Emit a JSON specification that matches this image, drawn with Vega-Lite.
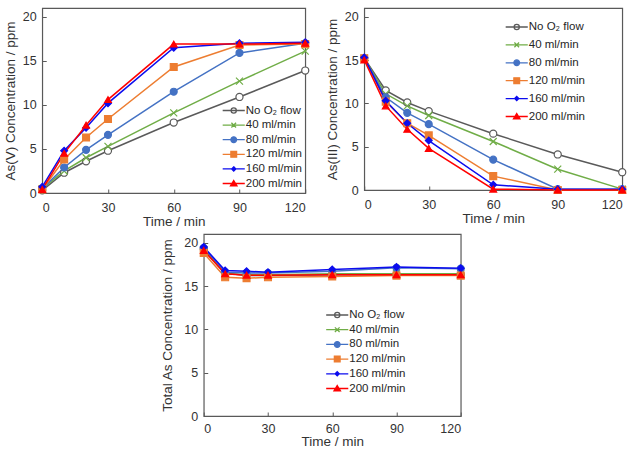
{
  "$schema": "https://vega.github.io/schema/vega-lite/v6.json",
  "padding": {"left": 2, "top": 7, "right": 2, "bottom": 0},
  "background": "white",
  "datasets": {
    "asv": [
      {"s": "No O₂ flow", "t": 0, "c": 0.3}, {"s": "No O₂ flow", "t": 10, "c": 2.3}, {"s": "No O₂ flow", "t": 20, "c": 3.6}, {"s": "No O₂ flow", "t": 30, "c": 4.8}, {"s": "No O₂ flow", "t": 60, "c": 8.0}, {"s": "No O₂ flow", "t": 90, "c": 10.9}, {"s": "No O₂ flow", "t": 120, "c": 13.9},
      {"s": "40 ml/min", "t": 0, "c": 0.5}, {"s": "40 ml/min", "t": 10, "c": 2.5}, {"s": "40 ml/min", "t": 20, "c": 4.0}, {"s": "40 ml/min", "t": 30, "c": 5.3}, {"s": "40 ml/min", "t": 60, "c": 9.1}, {"s": "40 ml/min", "t": 90, "c": 12.7}, {"s": "40 ml/min", "t": 120, "c": 16.1},
      {"s": "80 ml/min", "t": 0, "c": 0.5}, {"s": "80 ml/min", "t": 10, "c": 2.9}, {"s": "80 ml/min", "t": 20, "c": 4.9}, {"s": "80 ml/min", "t": 30, "c": 6.6}, {"s": "80 ml/min", "t": 60, "c": 11.5}, {"s": "80 ml/min", "t": 90, "c": 15.9}, {"s": "80 ml/min", "t": 120, "c": 17.0},
      {"s": "120 ml/min", "t": 0, "c": 0.4}, {"s": "120 ml/min", "t": 10, "c": 3.8}, {"s": "120 ml/min", "t": 20, "c": 6.3}, {"s": "120 ml/min", "t": 30, "c": 8.4}, {"s": "120 ml/min", "t": 60, "c": 14.3}, {"s": "120 ml/min", "t": 90, "c": 16.8}, {"s": "120 ml/min", "t": 120, "c": 16.9},
      {"s": "160 ml/min", "t": 0, "c": 0.7}, {"s": "160 ml/min", "t": 10, "c": 4.8}, {"s": "160 ml/min", "t": 20, "c": 7.4}, {"s": "160 ml/min", "t": 30, "c": 10.2}, {"s": "160 ml/min", "t": 60, "c": 16.5}, {"s": "160 ml/min", "t": 90, "c": 17.0}, {"s": "160 ml/min", "t": 120, "c": 17.1},
      {"s": "200 ml/min", "t": 0, "c": 0.4}, {"s": "200 ml/min", "t": 10, "c": 4.5}, {"s": "200 ml/min", "t": 20, "c": 7.7}, {"s": "200 ml/min", "t": 30, "c": 10.6}, {"s": "200 ml/min", "t": 60, "c": 16.9}, {"s": "200 ml/min", "t": 90, "c": 16.9}, {"s": "200 ml/min", "t": 120, "c": 17.0}
    ],
    "as3": [
      {"s": "No O₂ flow", "t": 0, "c": 15.2}, {"s": "No O₂ flow", "t": 10, "c": 11.5}, {"s": "No O₂ flow", "t": 20, "c": 10.1}, {"s": "No O₂ flow", "t": 30, "c": 9.1}, {"s": "No O₂ flow", "t": 60, "c": 6.5}, {"s": "No O₂ flow", "t": 90, "c": 4.1}, {"s": "No O₂ flow", "t": 120, "c": 2.05},
      {"s": "40 ml/min", "t": 0, "c": 15.2}, {"s": "40 ml/min", "t": 10, "c": 11.1}, {"s": "40 ml/min", "t": 20, "c": 9.7}, {"s": "40 ml/min", "t": 30, "c": 8.6}, {"s": "40 ml/min", "t": 60, "c": 5.6}, {"s": "40 ml/min", "t": 90, "c": 2.4}, {"s": "40 ml/min", "t": 120, "c": 0.1},
      {"s": "80 ml/min", "t": 0, "c": 15.2}, {"s": "80 ml/min", "t": 10, "c": 10.7}, {"s": "80 ml/min", "t": 20, "c": 8.9}, {"s": "80 ml/min", "t": 30, "c": 7.6}, {"s": "80 ml/min", "t": 60, "c": 3.5}, {"s": "80 ml/min", "t": 90, "c": 0.1}, {"s": "80 ml/min", "t": 120, "c": 0.1},
      {"s": "120 ml/min", "t": 0, "c": 15.2}, {"s": "120 ml/min", "t": 10, "c": 10.2}, {"s": "120 ml/min", "t": 20, "c": 7.7}, {"s": "120 ml/min", "t": 30, "c": 6.3}, {"s": "120 ml/min", "t": 60, "c": 1.6}, {"s": "120 ml/min", "t": 90, "c": 0.0}, {"s": "120 ml/min", "t": 120, "c": 0.0},
      {"s": "160 ml/min", "t": 0, "c": 15.3}, {"s": "160 ml/min", "t": 10, "c": 10.3}, {"s": "160 ml/min", "t": 20, "c": 7.7}, {"s": "160 ml/min", "t": 30, "c": 5.7}, {"s": "160 ml/min", "t": 60, "c": 0.6}, {"s": "160 ml/min", "t": 90, "c": 0.1}, {"s": "160 ml/min", "t": 120, "c": 0.1},
      {"s": "200 ml/min", "t": 0, "c": 15.0}, {"s": "200 ml/min", "t": 10, "c": 9.7}, {"s": "200 ml/min", "t": 20, "c": 7.0}, {"s": "200 ml/min", "t": 30, "c": 4.8}, {"s": "200 ml/min", "t": 60, "c": 0.1}, {"s": "200 ml/min", "t": 90, "c": 0.0}, {"s": "200 ml/min", "t": 120, "c": 0.0}
    ],
    "total": [
      {"s": "No O₂ flow", "t": 0, "c": 19.3}, {"s": "No O₂ flow", "t": 10, "c": 16.5}, {"s": "No O₂ flow", "t": 20, "c": 16.2}, {"s": "No O₂ flow", "t": 30, "c": 16.2}, {"s": "No O₂ flow", "t": 60, "c": 16.3}, {"s": "No O₂ flow", "t": 90, "c": 16.3}, {"s": "No O₂ flow", "t": 120, "c": 16.3},
      {"s": "40 ml/min", "t": 0, "c": 19.2}, {"s": "40 ml/min", "t": 10, "c": 16.4}, {"s": "40 ml/min", "t": 20, "c": 16.3}, {"s": "40 ml/min", "t": 30, "c": 16.3}, {"s": "40 ml/min", "t": 60, "c": 16.4}, {"s": "40 ml/min", "t": 90, "c": 16.4}, {"s": "40 ml/min", "t": 120, "c": 16.4},
      {"s": "80 ml/min", "t": 0, "c": 19.4}, {"s": "80 ml/min", "t": 10, "c": 16.6}, {"s": "80 ml/min", "t": 20, "c": 16.5}, {"s": "80 ml/min", "t": 30, "c": 16.5}, {"s": "80 ml/min", "t": 60, "c": 16.7}, {"s": "80 ml/min", "t": 90, "c": 17.1}, {"s": "80 ml/min", "t": 120, "c": 17.0},
      {"s": "120 ml/min", "t": 0, "c": 18.8}, {"s": "120 ml/min", "t": 10, "c": 16.0}, {"s": "120 ml/min", "t": 20, "c": 15.9}, {"s": "120 ml/min", "t": 30, "c": 16.0}, {"s": "120 ml/min", "t": 60, "c": 16.1}, {"s": "120 ml/min", "t": 90, "c": 16.2}, {"s": "120 ml/min", "t": 120, "c": 16.2},
      {"s": "160 ml/min", "t": 0, "c": 19.5}, {"s": "160 ml/min", "t": 10, "c": 16.8}, {"s": "160 ml/min", "t": 20, "c": 16.7}, {"s": "160 ml/min", "t": 30, "c": 16.6}, {"s": "160 ml/min", "t": 60, "c": 16.9}, {"s": "160 ml/min", "t": 90, "c": 17.2}, {"s": "160 ml/min", "t": 120, "c": 17.05},
      {"s": "200 ml/min", "t": 0, "c": 19.1}, {"s": "200 ml/min", "t": 10, "c": 16.4}, {"s": "200 ml/min", "t": 20, "c": 16.25}, {"s": "200 ml/min", "t": 30, "c": 16.25}, {"s": "200 ml/min", "t": 60, "c": 16.3}, {"s": "200 ml/min", "t": 90, "c": 16.3}, {"s": "200 ml/min", "t": 120, "c": 16.3}
    ]
  },
  "resolve": {"legend": {"color": "independent"}},
  "center": true,
  "spacing": 4,
  "vconcat": [
    {
      "resolve": {"legend": {"color": "independent"}},
      "spacing": 12,
      "hconcat": [
        {
          "width": 263, "height": 185,
          "data": {"name": "asv"},
          "layer": [
            {"mark": {"type": "line", "strokeWidth": 1.5},
             "encoding": {
               "x": {"field": "t", "type": "quantitative", "scale": {"domain": [0, 120], "nice": false}, "axis": {"values": [0, 30, 60, 90, 120], "title": "Time / min", "labelPadding": 12, "titlePadding": 1}},
               "y": {"field": "c", "type": "quantitative", "scale": {"domain": [0, 21], "nice": false}, "axis": {"values": [0, 5, 10, 15, 20], "title": "As(V) Concentration / ppm"}},
               "color": {"field": "s", "type": "nominal",
                 "scale": {"domain": ["No O₂ flow", "40 ml/min", "80 ml/min", "120 ml/min", "160 ml/min", "200 ml/min"], "range": ["#5A5A5A", "#70AD47", "#4472C4", "#ED7D31", "#0C0CEE", "#FF0000"]},
                 "legend": {"orient": "none", "legendX": 184, "legendY": 95, "title": null, "symbolSize": 169, "symbolStrokeWidth": 1.3, "labelFontSize": 11.5, "rowPadding": 1.6, "labelOffset": 4.5,
                   "encode": {"symbols": {"update": {
                     "shape": {"signal": "datum.value === 'No O₂ flow' ? 'M-1.7,0L1.7,0M-0.4,0A0.4,0.4 0 1,0 0.4,0A0.4,0.4 0 1,0 -0.4,0Z' : datum.value === '40 ml/min' ? 'M-1.7,0L1.7,0M-0.36,-0.36L0.36,0.36M-0.36,0.36L0.36,-0.36' : datum.value === '80 ml/min' ? 'M-1.7,0L1.7,0M-0.44,0A0.44,0.44 0 1,0 0.44,0A0.44,0.44 0 1,0 -0.44,0Z' : datum.value === '120 ml/min' ? 'M-1.7,0L1.7,0M-0.44,-0.44L0.44,-0.44L0.44,0.44L-0.44,0.44Z' : datum.value === '160 ml/min' ? 'M-1.7,0L1.7,0M0,-0.32L0.32,0L0,0.32L-0.32,0Z' : 'M-1.7,0L1.7,0M0,-0.46L0.5,0.38L-0.5,0.38Z'"},
                     "fill": {"signal": "datum.value === 'No O₂ flow' ? '#ffffff' : datum.value === '40 ml/min' ? 'transparent' : datum.value === '80 ml/min' ? '#4472C4' : datum.value === '120 ml/min' ? '#ED7D31' : datum.value === '160 ml/min' ? '#0C0CEE' : '#FF0000'"}
                   }}}}
               }
             }},
            {"mark": {"type": "point", "filled": true, "opacity": 1, "strokeWidth": 1.2},
             "encoding": {
               "x": {"field": "t", "type": "quantitative"},
               "y": {"field": "c", "type": "quantitative"},
               "shape": {"field": "s", "type": "nominal", "legend": null, "scale": {"domain": ["No O₂ flow", "40 ml/min", "80 ml/min", "120 ml/min", "160 ml/min", "200 ml/min"], "range": ["circle", "M-1,-1L1,1M-1,1L1,-1", "circle", "square", "diamond", "triangle-up"]}},
               "fill": {"field": "s", "type": "nominal", "legend": null, "scale": {"domain": ["No O₂ flow", "40 ml/min", "80 ml/min", "120 ml/min", "160 ml/min", "200 ml/min"], "range": ["#ffffff", "transparent", "#4472C4", "#ED7D31", "#0C0CEE", "#FF0000"]}},
               "stroke": {"field": "s", "type": "nominal", "legend": null, "scale": {"domain": ["No O₂ flow", "40 ml/min", "80 ml/min", "120 ml/min", "160 ml/min", "200 ml/min"], "range": ["#5A5A5A", "#70AD47", "#4472C4", "#ED7D31", "#0C0CEE", "#FF0000"]}},
               "size": {"field": "s", "type": "nominal", "legend": null, "scale": {"domain": ["No O₂ flow", "40 ml/min", "80 ml/min", "120 ml/min", "160 ml/min", "200 ml/min"], "range": [50, 45, 55, 60, 45, 70]}}
             }}
          ]
        },
        {
          "width": 258, "height": 182,
          "data": {"name": "as3"},
          "layer": [
            {"mark": {"type": "line", "strokeWidth": 1.5},
             "encoding": {
               "x": {"field": "t", "type": "quantitative", "scale": {"domain": [0, 120], "nice": false}, "axis": {"values": [0, 30, 60, 90, 120], "title": "Time / min", "labelPadding": 12, "titlePadding": 1}},
               "y": {"field": "c", "type": "quantitative", "scale": {"domain": [0, 21], "nice": false}, "axis": {"values": [0, 5, 10, 15, 20], "title": "As(III)  Concentration / ppm"}},
               "color": {"field": "s", "type": "nominal",
                 "scale": {"domain": ["No O₂ flow", "40 ml/min", "80 ml/min", "120 ml/min", "160 ml/min", "200 ml/min"], "range": ["#5A5A5A", "#70AD47", "#4472C4", "#ED7D31", "#0C0CEE", "#FF0000"]},
                 "legend": {"orient": "none", "legendX": 145, "legendY": 11.5, "title": null, "symbolSize": 169, "symbolStrokeWidth": 1.3, "labelFontSize": 11.5, "rowPadding": 4.9, "labelOffset": 4.5,
                   "encode": {"symbols": {"update": {
                     "shape": {"signal": "datum.value === 'No O₂ flow' ? 'M-1.7,0L1.7,0M-0.4,0A0.4,0.4 0 1,0 0.4,0A0.4,0.4 0 1,0 -0.4,0Z' : datum.value === '40 ml/min' ? 'M-1.7,0L1.7,0M-0.36,-0.36L0.36,0.36M-0.36,0.36L0.36,-0.36' : datum.value === '80 ml/min' ? 'M-1.7,0L1.7,0M-0.44,0A0.44,0.44 0 1,0 0.44,0A0.44,0.44 0 1,0 -0.44,0Z' : datum.value === '120 ml/min' ? 'M-1.7,0L1.7,0M-0.44,-0.44L0.44,-0.44L0.44,0.44L-0.44,0.44Z' : datum.value === '160 ml/min' ? 'M-1.7,0L1.7,0M0,-0.32L0.32,0L0,0.32L-0.32,0Z' : 'M-1.7,0L1.7,0M0,-0.46L0.5,0.38L-0.5,0.38Z'"},
                     "fill": {"signal": "datum.value === 'No O₂ flow' ? '#ffffff' : datum.value === '40 ml/min' ? 'transparent' : datum.value === '80 ml/min' ? '#4472C4' : datum.value === '120 ml/min' ? '#ED7D31' : datum.value === '160 ml/min' ? '#0C0CEE' : '#FF0000'"}
                   }}}}
               }
             }},
            {"mark": {"type": "point", "filled": true, "opacity": 1, "strokeWidth": 1.2},
             "encoding": {
               "x": {"field": "t", "type": "quantitative"},
               "y": {"field": "c", "type": "quantitative"},
               "shape": {"field": "s", "type": "nominal", "legend": null},
               "fill": {"field": "s", "type": "nominal", "legend": null},
               "stroke": {"field": "s", "type": "nominal", "legend": null},
               "size": {"field": "s", "type": "nominal", "legend": null}
             }}
          ]
        }
      ]
    },
    {
      "width": 257, "height": 182,
      "data": {"name": "total"},
      "layer": [
        {"mark": {"type": "line", "strokeWidth": 1.5},
         "encoding": {
           "x": {"field": "t", "type": "quantitative", "scale": {"domain": [0, 120], "nice": false}, "axis": {"values": [0, 30, 60, 90, 120], "title": "Time / min", "labelPadding": 10, "titlePadding": 0}},
           "y": {"field": "c", "type": "quantitative", "scale": {"domain": [0, 21], "nice": false}, "axis": {"values": [0, 5, 10, 15, 20], "title": "Total As Concentration / ppm", "titlePadding": 9}},
           "color": {"field": "s", "type": "nominal",
             "scale": {"domain": ["No O₂ flow", "40 ml/min", "80 ml/min", "120 ml/min", "160 ml/min", "200 ml/min"], "range": ["#5A5A5A", "#70AD47", "#4472C4", "#ED7D31", "#0C0CEE", "#FF0000"]},
             "legend": {"orient": "none", "legendX": 126, "legendY": 73.5, "title": null, "symbolSize": 169, "symbolStrokeWidth": 1.3, "labelFontSize": 11.5, "rowPadding": 1.7, "labelOffset": 4.5,
               "encode": {"symbols": {"update": {
                 "shape": {"signal": "datum.value === 'No O₂ flow' ? 'M-1.7,0L1.7,0M-0.4,0A0.4,0.4 0 1,0 0.4,0A0.4,0.4 0 1,0 -0.4,0Z' : datum.value === '40 ml/min' ? 'M-1.7,0L1.7,0M-0.36,-0.36L0.36,0.36M-0.36,0.36L0.36,-0.36' : datum.value === '80 ml/min' ? 'M-1.7,0L1.7,0M-0.44,0A0.44,0.44 0 1,0 0.44,0A0.44,0.44 0 1,0 -0.44,0Z' : datum.value === '120 ml/min' ? 'M-1.7,0L1.7,0M-0.44,-0.44L0.44,-0.44L0.44,0.44L-0.44,0.44Z' : datum.value === '160 ml/min' ? 'M-1.7,0L1.7,0M0,-0.32L0.32,0L0,0.32L-0.32,0Z' : 'M-1.7,0L1.7,0M0,-0.46L0.5,0.38L-0.5,0.38Z'"},
                 "fill": {"signal": "datum.value === 'No O₂ flow' ? '#ffffff' : datum.value === '40 ml/min' ? 'transparent' : datum.value === '80 ml/min' ? '#4472C4' : datum.value === '120 ml/min' ? '#ED7D31' : datum.value === '160 ml/min' ? '#0C0CEE' : '#FF0000'"}
               }}}}
           }
         }},
        {"mark": {"type": "point", "filled": true, "opacity": 1, "strokeWidth": 1.2},
         "encoding": {
           "x": {"field": "t", "type": "quantitative"},
           "y": {"field": "c", "type": "quantitative"},
           "shape": {"field": "s", "type": "nominal", "legend": null},
           "fill": {"field": "s", "type": "nominal", "legend": null},
           "stroke": {"field": "s", "type": "nominal", "legend": null},
           "size": {"field": "s", "type": "nominal", "legend": null}
         }}
      ]
    }
  ],
  "config": {
    "font": "Liberation Sans",
    "view": {"stroke": "#595959", "strokeWidth": 1.2},
    "axis": {"grid": false, "domain": false, "tickSize": -4, "tickColor": "#595959", "tickWidth": 1, "labelFontSize": 12.5, "labelColor": "#333333", "titleFontSize": 13.5, "titleFontWeight": "normal", "titleColor": "#333333"},
    "axisY": {"labelPadding": 10, "titlePadding": 5},
    "legend": {"labelColor": "#262626", "padding": 0, "labelFont": "Liberation Sans"}
  }
}
